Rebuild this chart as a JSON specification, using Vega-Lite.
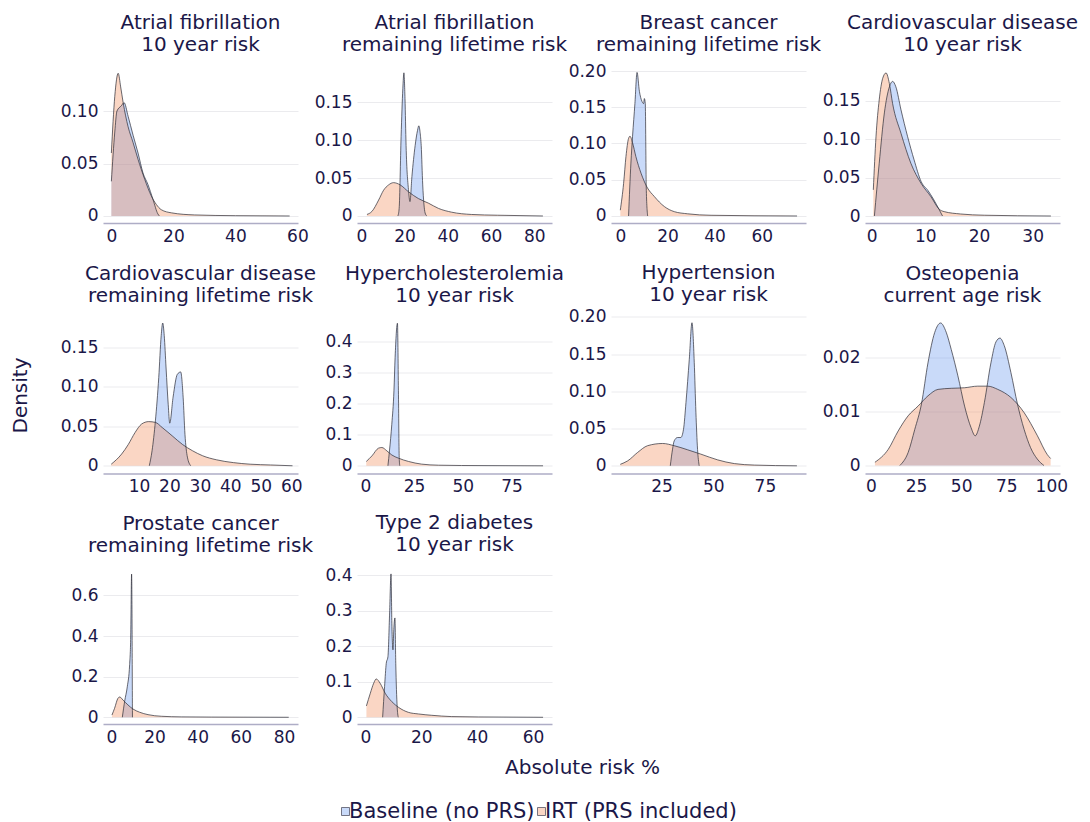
{
  "$schema": "https://vega.github.io/schema/vega-lite/v6.json",
  "padding": {"left": 10, "top": 13, "right": 0, "bottom": 0},
  "background": "white",
  "columns": 4,
  "bounds": "flush",
  "spacing": {"column": 59, "row": 93.5},
  "data": {"values": [
    {"p":"af10","s":"Baseline (no PRS)","x":0,"y":0.033},{"p":"af10","s":"Baseline (no PRS)","x":1.1,"y":0.08},{"p":"af10","s":"Baseline (no PRS)","x":1.8,"y":0.1},{"p":"af10","s":"Baseline (no PRS)","x":3.2,"y":0.105},{"p":"af10","s":"Baseline (no PRS)","x":4.1,"y":0.108},{"p":"af10","s":"Baseline (no PRS)","x":5.4,"y":0.095},{"p":"af10","s":"Baseline (no PRS)","x":7.0,"y":0.077},{"p":"af10","s":"Baseline (no PRS)","x":8.6,"y":0.06},{"p":"af10","s":"Baseline (no PRS)","x":10.2,"y":0.041},{"p":"af10","s":"Baseline (no PRS)","x":11.8,"y":0.03},{"p":"af10","s":"Baseline (no PRS)","x":13.4,"y":0.016},{"p":"af10","s":"Baseline (no PRS)","x":15,"y":0.002},{"p":"af10","s":"Baseline (no PRS)","x":15.5,"y":0},
    {"p":"af10","s":"IRT (PRS included)","x":0,"y":0.06},{"p":"af10","s":"IRT (PRS included)","x":1.1,"y":0.114},{"p":"af10","s":"IRT (PRS included)","x":2.2,"y":0.136},{"p":"af10","s":"IRT (PRS included)","x":3.0,"y":0.123},{"p":"af10","s":"IRT (PRS included)","x":3.8,"y":0.108},{"p":"af10","s":"IRT (PRS included)","x":5.4,"y":0.085},{"p":"af10","s":"IRT (PRS included)","x":7.0,"y":0.07},{"p":"af10","s":"IRT (PRS included)","x":8.6,"y":0.054},{"p":"af10","s":"IRT (PRS included)","x":10.75,"y":0.035},{"p":"af10","s":"IRT (PRS included)","x":12.9,"y":0.019},{"p":"af10","s":"IRT (PRS included)","x":14.5,"y":0.011},{"p":"af10","s":"IRT (PRS included)","x":16.1,"y":0.006},{"p":"af10","s":"IRT (PRS included)","x":19.4,"y":0.003},{"p":"af10","s":"IRT (PRS included)","x":26.9,"y":0.001},{"p":"af10","s":"IRT (PRS included)","x":40,"y":0.0003},{"p":"af10","s":"IRT (PRS included)","x":57.5,"y":0},

    {"p":"afl","s":"Baseline (no PRS)","x":16.9,"y":0},{"p":"afl","s":"Baseline (no PRS)","x":17.5,"y":0.01},{"p":"afl","s":"Baseline (no PRS)","x":18.4,"y":0.105},{"p":"afl","s":"Baseline (no PRS)","x":19.2,"y":0.168},{"p":"afl","s":"Baseline (no PRS)","x":19.7,"y":0.189},{"p":"afl","s":"Baseline (no PRS)","x":20.2,"y":0.155},{"p":"afl","s":"Baseline (no PRS)","x":20.7,"y":0.093},{"p":"afl","s":"Baseline (no PRS)","x":21.8,"y":0.035},{"p":"afl","s":"Baseline (no PRS)","x":22.5,"y":0.019},{"p":"afl","s":"Baseline (no PRS)","x":23.4,"y":0.052},{"p":"afl","s":"Baseline (no PRS)","x":24.9,"y":0.093},{"p":"afl","s":"Baseline (no PRS)","x":26.0,"y":0.113},{"p":"afl","s":"Baseline (no PRS)","x":26.6,"y":0.119},{"p":"afl","s":"Baseline (no PRS)","x":27.2,"y":0.11},{"p":"afl","s":"Baseline (no PRS)","x":27.7,"y":0.093},{"p":"afl","s":"Baseline (no PRS)","x":28.4,"y":0.041},{"p":"afl","s":"Baseline (no PRS)","x":29.5,"y":0.004},{"p":"afl","s":"Baseline (no PRS)","x":30.3,"y":0},
    {"p":"afl","s":"IRT (PRS included)","x":2.6,"y":0.002},{"p":"afl","s":"IRT (PRS included)","x":4.9,"y":0.006},{"p":"afl","s":"IRT (PRS included)","x":8.0,"y":0.021},{"p":"afl","s":"IRT (PRS included)","x":10.3,"y":0.034},{"p":"afl","s":"IRT (PRS included)","x":12.6,"y":0.041},{"p":"afl","s":"IRT (PRS included)","x":14.9,"y":0.044},{"p":"afl","s":"IRT (PRS included)","x":18,"y":0.041},{"p":"afl","s":"IRT (PRS included)","x":21.8,"y":0.032},{"p":"afl","s":"IRT (PRS included)","x":26.4,"y":0.023},{"p":"afl","s":"IRT (PRS included)","x":31,"y":0.017},{"p":"afl","s":"IRT (PRS included)","x":35.7,"y":0.01},{"p":"afl","s":"IRT (PRS included)","x":41.8,"y":0.005},{"p":"afl","s":"IRT (PRS included)","x":51,"y":0.002},{"p":"afl","s":"IRT (PRS included)","x":63,"y":0.001},{"p":"afl","s":"IRT (PRS included)","x":84,"y":0},

    {"p":"bcl","s":"Baseline (no PRS)","x":3.5,"y":0},{"p":"bcl","s":"Baseline (no PRS)","x":4.5,"y":0.073},{"p":"bcl","s":"Baseline (no PRS)","x":5.2,"y":0.11},{"p":"bcl","s":"Baseline (no PRS)","x":6.2,"y":0.155},{"p":"bcl","s":"Baseline (no PRS)","x":7.1,"y":0.198},{"p":"bcl","s":"Baseline (no PRS)","x":8.1,"y":0.172},{"p":"bcl","s":"Baseline (no PRS)","x":9.2,"y":0.158},{"p":"bcl","s":"Baseline (no PRS)","x":9.9,"y":0.155},{"p":"bcl","s":"Baseline (no PRS)","x":10.2,"y":0.162},{"p":"bcl","s":"Baseline (no PRS)","x":10.6,"y":0.155},{"p":"bcl","s":"Baseline (no PRS)","x":11,"y":0.04},{"p":"bcl","s":"Baseline (no PRS)","x":11.6,"y":0},
    {"p":"bcl","s":"IRT (PRS included)","x":0,"y":0.008},{"p":"bcl","s":"IRT (PRS included)","x":1.4,"y":0.045},{"p":"bcl","s":"IRT (PRS included)","x":2.4,"y":0.082},{"p":"bcl","s":"IRT (PRS included)","x":3.5,"y":0.107},{"p":"bcl","s":"IRT (PRS included)","x":4.1,"y":0.11},{"p":"bcl","s":"IRT (PRS included)","x":5.2,"y":0.101},{"p":"bcl","s":"IRT (PRS included)","x":6.6,"y":0.082},{"p":"bcl","s":"IRT (PRS included)","x":8.8,"y":0.059},{"p":"bcl","s":"IRT (PRS included)","x":11.3,"y":0.04},{"p":"bcl","s":"IRT (PRS included)","x":14.4,"y":0.027},{"p":"bcl","s":"IRT (PRS included)","x":18.7,"y":0.013},{"p":"bcl","s":"IRT (PRS included)","x":22.9,"y":0.006},{"p":"bcl","s":"IRT (PRS included)","x":28.6,"y":0.003},{"p":"bcl","s":"IRT (PRS included)","x":38.5,"y":0.001},{"p":"bcl","s":"IRT (PRS included)","x":75,"y":0},

    {"p":"cvd10","s":"Baseline (no PRS)","x":0.5,"y":0},{"p":"cvd10","s":"Baseline (no PRS)","x":1.4,"y":0.0685},{"p":"cvd10","s":"Baseline (no PRS)","x":2.36,"y":0.134},{"p":"cvd10","s":"Baseline (no PRS)","x":3.3,"y":0.168},{"p":"cvd10","s":"Baseline (no PRS)","x":3.9,"y":0.175},{"p":"cvd10","s":"Baseline (no PRS)","x":4.5,"y":0.168},{"p":"cvd10","s":"Baseline (no PRS)","x":5.46,"y":0.138},{"p":"cvd10","s":"Baseline (no PRS)","x":6.7,"y":0.103},{"p":"cvd10","s":"Baseline (no PRS)","x":7.9,"y":0.073},{"p":"cvd10","s":"Baseline (no PRS)","x":9.2,"y":0.045},{"p":"cvd10","s":"Baseline (no PRS)","x":10.5,"y":0.033},{"p":"cvd10","s":"Baseline (no PRS)","x":11.5,"y":0.022},{"p":"cvd10","s":"Baseline (no PRS)","x":12.6,"y":0.008},{"p":"cvd10","s":"Baseline (no PRS)","x":13.2,"y":0},
    {"p":"cvd10","s":"IRT (PRS included)","x":0.3,"y":0.034},{"p":"cvd10","s":"IRT (PRS included)","x":0.8,"y":0.103},{"p":"cvd10","s":"IRT (PRS included)","x":1.4,"y":0.151},{"p":"cvd10","s":"IRT (PRS included)","x":2.05,"y":0.179},{"p":"cvd10","s":"IRT (PRS included)","x":2.67,"y":0.186},{"p":"cvd10","s":"IRT (PRS included)","x":3.3,"y":0.172},{"p":"cvd10","s":"IRT (PRS included)","x":3.9,"y":0.146},{"p":"cvd10","s":"IRT (PRS included)","x":5.46,"y":0.1075},{"p":"cvd10","s":"IRT (PRS included)","x":7.3,"y":0.0685},{"p":"cvd10","s":"IRT (PRS included)","x":9.2,"y":0.0425},{"p":"cvd10","s":"IRT (PRS included)","x":11.05,"y":0.025},{"p":"cvd10","s":"IRT (PRS included)","x":12.6,"y":0.0087},{"p":"cvd10","s":"IRT (PRS included)","x":13.5,"y":0.0057},{"p":"cvd10","s":"IRT (PRS included)","x":16.6,"y":0.0026},{"p":"cvd10","s":"IRT (PRS included)","x":21,"y":0.001},{"p":"cvd10","s":"IRT (PRS included)","x":33.4,"y":0},

    {"p":"cvdl","s":"Baseline (no PRS)","x":13.4,"y":0},{"p":"cvdl","s":"Baseline (no PRS)","x":14.3,"y":0.019},{"p":"cvdl","s":"Baseline (no PRS)","x":15.4,"y":0.057},{"p":"cvdl","s":"Baseline (no PRS)","x":16.5,"y":0.112},{"p":"cvdl","s":"Baseline (no PRS)","x":17.3,"y":0.165},{"p":"cvdl","s":"Baseline (no PRS)","x":17.8,"y":0.181},{"p":"cvdl","s":"Baseline (no PRS)","x":18.3,"y":0.165},{"p":"cvdl","s":"Baseline (no PRS)","x":18.9,"y":0.124},{"p":"cvdl","s":"Baseline (no PRS)","x":19.6,"y":0.078},{"p":"cvdl","s":"Baseline (no PRS)","x":20.1,"y":0.054},{"p":"cvdl","s":"Baseline (no PRS)","x":21.2,"y":0.087},{"p":"cvdl","s":"Baseline (no PRS)","x":22.6,"y":0.116},{"p":"cvdl","s":"Baseline (no PRS)","x":23.7,"y":0.119},{"p":"cvdl","s":"Baseline (no PRS)","x":24.5,"y":0.087},{"p":"cvdl","s":"Baseline (no PRS)","x":25.1,"y":0.04},{"p":"cvdl","s":"Baseline (no PRS)","x":25.9,"y":0.011},{"p":"cvdl","s":"Baseline (no PRS)","x":27,"y":0},
    {"p":"cvdl","s":"IRT (PRS included)","x":0.9,"y":0.002},{"p":"cvdl","s":"IRT (PRS included)","x":4.3,"y":0.0148},{"p":"cvdl","s":"IRT (PRS included)","x":6.5,"y":0.027},{"p":"cvdl","s":"IRT (PRS included)","x":8.7,"y":0.042},{"p":"cvdl","s":"IRT (PRS included)","x":10.9,"y":0.053},{"p":"cvdl","s":"IRT (PRS included)","x":13.2,"y":0.056},{"p":"cvdl","s":"IRT (PRS included)","x":15.4,"y":0.055},{"p":"cvdl","s":"IRT (PRS included)","x":17.6,"y":0.0486},{"p":"cvdl","s":"IRT (PRS included)","x":20.9,"y":0.038},{"p":"cvdl","s":"IRT (PRS included)","x":24.3,"y":0.027},{"p":"cvdl","s":"IRT (PRS included)","x":27.6,"y":0.019},{"p":"cvdl","s":"IRT (PRS included)","x":30.9,"y":0.0127},{"p":"cvdl","s":"IRT (PRS included)","x":35.4,"y":0.0076},{"p":"cvdl","s":"IRT (PRS included)","x":41,"y":0.004},{"p":"cvdl","s":"IRT (PRS included)","x":46.5,"y":0.002},{"p":"cvdl","s":"IRT (PRS included)","x":53.2,"y":0.001},{"p":"cvdl","s":"IRT (PRS included)","x":60.4,"y":0},

    {"p":"hc10","s":"Baseline (no PRS)","x":11.6,"y":0},{"p":"hc10","s":"Baseline (no PRS)","x":12.4,"y":0.048},{"p":"hc10","s":"Baseline (no PRS)","x":13.6,"y":0.134},{"p":"hc10","s":"Baseline (no PRS)","x":14.7,"y":0.242},{"p":"hc10","s":"Baseline (no PRS)","x":15.3,"y":0.35},{"p":"hc10","s":"Baseline (no PRS)","x":16.5,"y":0.46},{"p":"hc10","s":"Baseline (no PRS)","x":17,"y":0.242},{"p":"hc10","s":"Baseline (no PRS)","x":17.4,"y":0.027},{"p":"hc10","s":"Baseline (no PRS)","x":17.7,"y":0},
    {"p":"hc10","s":"IRT (PRS included)","x":0.5,"y":0.014},{"p":"hc10","s":"IRT (PRS included)","x":3.4,"y":0.032},{"p":"hc10","s":"IRT (PRS included)","x":6.8,"y":0.057},{"p":"hc10","s":"IRT (PRS included)","x":8.5,"y":0.059},{"p":"hc10","s":"IRT (PRS included)","x":11.1,"y":0.048},{"p":"hc10","s":"IRT (PRS included)","x":13.6,"y":0.035},{"p":"hc10","s":"IRT (PRS included)","x":17,"y":0.0247},{"p":"hc10","s":"IRT (PRS included)","x":22.2,"y":0.014},{"p":"hc10","s":"IRT (PRS included)","x":28.9,"y":0.0054},{"p":"hc10","s":"IRT (PRS included)","x":37.5,"y":0.002},{"p":"hc10","s":"IRT (PRS included)","x":49.4,"y":0.001},{"p":"hc10","s":"IRT (PRS included)","x":91.2,"y":0},

    {"p":"ht10","s":"Baseline (no PRS)","x":29.2,"y":0},{"p":"ht10","s":"Baseline (no PRS)","x":30.3,"y":0.0224},{"p":"ht10","s":"Baseline (no PRS)","x":31.1,"y":0.0335},{"p":"ht10","s":"Baseline (no PRS)","x":32.7,"y":0.038},{"p":"ht10","s":"Baseline (no PRS)","x":34.3,"y":0.038},{"p":"ht10","s":"Baseline (no PRS)","x":35.6,"y":0.049},{"p":"ht10","s":"Baseline (no PRS)","x":36.8,"y":0.085},{"p":"ht10","s":"Baseline (no PRS)","x":38.4,"y":0.143},{"p":"ht10","s":"Baseline (no PRS)","x":39.7,"y":0.192},{"p":"ht10","s":"Baseline (no PRS)","x":40.8,"y":0.139},{"p":"ht10","s":"Baseline (no PRS)","x":41.6,"y":0.072},{"p":"ht10","s":"Baseline (no PRS)","x":42.4,"y":0.022},{"p":"ht10","s":"Baseline (no PRS)","x":43.2,"y":0},
    {"p":"ht10","s":"IRT (PRS included)","x":5,"y":0.002},{"p":"ht10","s":"IRT (PRS included)","x":8.6,"y":0.0067},{"p":"ht10","s":"IRT (PRS included)","x":13.4,"y":0.018},{"p":"ht10","s":"IRT (PRS included)","x":18.2,"y":0.027},{"p":"ht10","s":"IRT (PRS included)","x":25.5,"y":0.03},{"p":"ht10","s":"IRT (PRS included)","x":31.1,"y":0.027},{"p":"ht10","s":"IRT (PRS included)","x":37.6,"y":0.0215},{"p":"ht10","s":"IRT (PRS included)","x":44,"y":0.0157},{"p":"ht10","s":"IRT (PRS included)","x":52.1,"y":0.008},{"p":"ht10","s":"IRT (PRS included)","x":60.2,"y":0.003},{"p":"ht10","s":"IRT (PRS included)","x":69.9,"y":0.001},{"p":"ht10","s":"IRT (PRS included)","x":90.5,"y":0},

    {"p":"osteo","s":"Baseline (no PRS)","x":16,"y":0},{"p":"osteo","s":"Baseline (no PRS)","x":20.6,"y":0.0024},{"p":"osteo","s":"Baseline (no PRS)","x":24.3,"y":0.0067},{"p":"osteo","s":"Baseline (no PRS)","x":28,"y":0.0114},{"p":"osteo","s":"Baseline (no PRS)","x":31.6,"y":0.019},{"p":"osteo","s":"Baseline (no PRS)","x":35.3,"y":0.0246},{"p":"osteo","s":"Baseline (no PRS)","x":38.6,"y":0.0264},{"p":"osteo","s":"Baseline (no PRS)","x":41.7,"y":0.0247},{"p":"osteo","s":"Baseline (no PRS)","x":44.5,"y":0.0215},{"p":"osteo","s":"Baseline (no PRS)","x":48.2,"y":0.0166},{"p":"osteo","s":"Baseline (no PRS)","x":51.9,"y":0.011},{"p":"osteo","s":"Baseline (no PRS)","x":55.5,"y":0.007},{"p":"osteo","s":"Baseline (no PRS)","x":57.8,"y":0.0055},{"p":"osteo","s":"Baseline (no PRS)","x":60.1,"y":0.0073},{"p":"osteo","s":"Baseline (no PRS)","x":62.9,"y":0.0117},{"p":"osteo","s":"Baseline (no PRS)","x":66.5,"y":0.019},{"p":"osteo","s":"Baseline (no PRS)","x":69.3,"y":0.0229},{"p":"osteo","s":"Baseline (no PRS)","x":71.5,"y":0.0236},{"p":"osteo","s":"Baseline (no PRS)","x":73.9,"y":0.0222},{"p":"osteo","s":"Baseline (no PRS)","x":77.6,"y":0.0172},{"p":"osteo","s":"Baseline (no PRS)","x":81.2,"y":0.0114},{"p":"osteo","s":"Baseline (no PRS)","x":84.9,"y":0.0067},{"p":"osteo","s":"Baseline (no PRS)","x":88.5,"y":0.0033},{"p":"osteo","s":"Baseline (no PRS)","x":92.2,"y":0.0012},{"p":"osteo","s":"Baseline (no PRS)","x":95.9,"y":0},
    {"p":"osteo","s":"IRT (PRS included)","x":2.2,"y":0.0006},{"p":"osteo","s":"IRT (PRS included)","x":9.6,"y":0.003},{"p":"osteo","s":"IRT (PRS included)","x":15.1,"y":0.0064},{"p":"osteo","s":"IRT (PRS included)","x":20.6,"y":0.0092},{"p":"osteo","s":"IRT (PRS included)","x":26.1,"y":0.011},{"p":"osteo","s":"IRT (PRS included)","x":31.6,"y":0.0129},{"p":"osteo","s":"IRT (PRS included)","x":37.2,"y":0.0141},{"p":"osteo","s":"IRT (PRS included)","x":44.5,"y":0.0143},{"p":"osteo","s":"IRT (PRS included)","x":51.9,"y":0.0144},{"p":"osteo","s":"IRT (PRS included)","x":59.2,"y":0.0147},{"p":"osteo","s":"IRT (PRS included)","x":64.7,"y":0.0147},{"p":"osteo","s":"IRT (PRS included)","x":70.3,"y":0.0141},{"p":"osteo","s":"IRT (PRS included)","x":77.6,"y":0.0126},{"p":"osteo","s":"IRT (PRS included)","x":84.9,"y":0.0098},{"p":"osteo","s":"IRT (PRS included)","x":92.3,"y":0.0055},{"p":"osteo","s":"IRT (PRS included)","x":97.8,"y":0.002},{"p":"osteo","s":"IRT (PRS included)","x":99.6,"y":0.0013},

    {"p":"pcl","s":"Baseline (no PRS)","x":5.1,"y":0},{"p":"pcl","s":"Baseline (no PRS)","x":6.2,"y":0.08},{"p":"pcl","s":"Baseline (no PRS)","x":7.4,"y":0.15},{"p":"pcl","s":"Baseline (no PRS)","x":8.5,"y":0.26},{"p":"pcl","s":"Baseline (no PRS)","x":9.0,"y":0.4},{"p":"pcl","s":"Baseline (no PRS)","x":9.4,"y":0.705},{"p":"pcl","s":"Baseline (no PRS)","x":9.8,"y":0},
    {"p":"pcl","s":"IRT (PRS included)","x":0.3,"y":0.011},{"p":"pcl","s":"IRT (PRS included)","x":1.5,"y":0.044},{"p":"pcl","s":"IRT (PRS included)","x":3.1,"y":0.094},{"p":"pcl","s":"IRT (PRS included)","x":3.9,"y":0.1},{"p":"pcl","s":"IRT (PRS included)","x":5.4,"y":0.085},{"p":"pcl","s":"IRT (PRS included)","x":7.7,"y":0.061},{"p":"pcl","s":"IRT (PRS included)","x":10,"y":0.041},{"p":"pcl","s":"IRT (PRS included)","x":13.1,"y":0.025},{"p":"pcl","s":"IRT (PRS included)","x":17,"y":0.013},{"p":"pcl","s":"IRT (PRS included)","x":23.2,"y":0.005},{"p":"pcl","s":"IRT (PRS included)","x":32.4,"y":0.002},{"p":"pcl","s":"IRT (PRS included)","x":46.3,"y":0.001},{"p":"pcl","s":"IRT (PRS included)","x":82.2,"y":0},

    {"p":"t2d","s":"Baseline (no PRS)","x":6.2,"y":0},{"p":"t2d","s":"Baseline (no PRS)","x":6.9,"y":0.087},{"p":"t2d","s":"Baseline (no PRS)","x":7.5,"y":0.152},{"p":"t2d","s":"Baseline (no PRS)","x":8.1,"y":0.171},{"p":"t2d","s":"Baseline (no PRS)","x":8.7,"y":0.294},{"p":"t2d","s":"Baseline (no PRS)","x":9.2,"y":0.404},{"p":"t2d","s":"Baseline (no PRS)","x":9.5,"y":0.265},{"p":"t2d","s":"Baseline (no PRS)","x":9.9,"y":0.19},{"p":"t2d","s":"Baseline (no PRS)","x":10.2,"y":0.247},{"p":"t2d","s":"Baseline (no PRS)","x":10.6,"y":0.28},{"p":"t2d","s":"Baseline (no PRS)","x":10.9,"y":0.152},{"p":"t2d","s":"Baseline (no PRS)","x":11.4,"y":0.03},{"p":"t2d","s":"Baseline (no PRS)","x":11.8,"y":0},
    {"p":"t2d","s":"IRT (PRS included)","x":0.4,"y":0.032},{"p":"t2d","s":"IRT (PRS included)","x":1.8,"y":0.068},{"p":"t2d","s":"IRT (PRS included)","x":3,"y":0.096},{"p":"t2d","s":"IRT (PRS included)","x":3.9,"y":0.108},{"p":"t2d","s":"IRT (PRS included)","x":5.3,"y":0.096},{"p":"t2d","s":"IRT (PRS included)","x":7.1,"y":0.068},{"p":"t2d","s":"IRT (PRS included)","x":9.5,"y":0.044},{"p":"t2d","s":"IRT (PRS included)","x":11.9,"y":0.028},{"p":"t2d","s":"IRT (PRS included)","x":15.4,"y":0.014},{"p":"t2d","s":"IRT (PRS included)","x":19,"y":0.0094},{"p":"t2d","s":"IRT (PRS included)","x":23.8,"y":0.0056},{"p":"t2d","s":"IRT (PRS included)","x":30.9,"y":0.002},{"p":"t2d","s":"IRT (PRS included)","x":40.4,"y":0.001},{"p":"t2d","s":"IRT (PRS included)","x":63.6,"y":0}
  ]},
  "concat": [
    {"title": {"text": ["Atrial fibrillation", "10 year risk"]}, "width": 195, "height": 157,
     "transform": [{"filter": "datum.p == 'af10'"}],
     "encoding": {
       "x": {"field": "x", "type": "quantitative", "scale": {"domain": [-2.7, 60.2], "nice": false, "zero": false}, "axis": {"values": [0, 20, 40, 60], "title": null}},
       "y": {"field": "y", "type": "quantitative", "stack": null, "scale": {"domain": [-0.00667, 0.1429], "nice": false, "zero": false}, "axis": {"values": [0, 0.05, 0.1], "labelExpr": "datum.value == 0 ? '0' : format(datum.value, '.2f')", "title": null}}
     },
     "layer": [
       {"mark": {"type": "area", "interpolate": "monotone"}, "encoding": {"color": {"field": "s", "type": "nominal", "scale": {"domain": ["Baseline (no PRS)", "IRT (PRS included)"], "range": ["rgba(100,149,237,0.35)", "rgba(241,138,86,0.35)"]}, "legend": {"orient": "none", "legendX": 232, "legendY": 735, "direction": "horizontal", "title": null}}}},
       {"mark": {"type": "line", "interpolate": "monotone", "color": "#2b2b35", "strokeWidth": 0.7}, "encoding": {"detail": {"field": "s"}}}
     ]},
    {"title": {"text": ["Atrial fibrillation", "remaining lifetime risk"]}, "width": 195, "height": 157,
     "transform": [{"filter": "datum.p == 'afl'"}],
     "encoding": {
       "x": {"field": "x", "type": "quantitative", "scale": {"domain": [-2.0, 88.2], "nice": false, "zero": false}, "axis": {"values": [0, 20, 40, 60, 80], "title": null}},
       "y": {"field": "y", "type": "quantitative", "stack": null, "scale": {"domain": [-0.00926, 0.198], "nice": false, "zero": false}, "axis": {"values": [0, 0.05, 0.1, 0.15], "labelExpr": "datum.value == 0 ? '0' : format(datum.value, '.2f')", "title": null}}
     },
     "layer": [
       {"mark": {"type": "area", "interpolate": "monotone"}, "encoding": {"color": {"field": "s", "type": "nominal", "scale": {"domain": ["Baseline (no PRS)", "IRT (PRS included)"], "range": ["rgba(100,149,237,0.35)", "rgba(241,138,86,0.35)"]}, "legend": {"orient": "none", "legendX": 232, "legendY": 735, "direction": "horizontal", "title": null}}}},
       {"mark": {"type": "line", "interpolate": "monotone", "color": "#2b2b35", "strokeWidth": 0.7}, "encoding": {"detail": {"field": "s"}}}
     ]},
    {"title": {"text": ["Breast cancer", "remaining lifetime risk"], "offset": 7}, "width": 195, "height": 157,
     "transform": [{"filter": "datum.p == 'bcl'"}],
     "encoding": {
       "x": {"field": "x", "type": "quantitative", "scale": {"domain": [-3.95, 78.8], "nice": false, "zero": false}, "axis": {"values": [0, 20, 40, 60], "title": null}},
       "y": {"field": "y", "type": "quantitative", "stack": null, "scale": {"domain": [-0.00966, 0.2069], "nice": false, "zero": false}, "axis": {"values": [0, 0.05, 0.1, 0.15, 0.2], "labelExpr": "datum.value == 0 ? '0' : format(datum.value, '.2f')", "title": null}}
     },
     "layer": [
       {"mark": {"type": "area", "interpolate": "monotone"}, "encoding": {"color": {"field": "s", "type": "nominal", "scale": {"domain": ["Baseline (no PRS)", "IRT (PRS included)"], "range": ["rgba(100,149,237,0.35)", "rgba(241,138,86,0.35)"]}, "legend": {"orient": "none", "legendX": 232, "legendY": 735, "direction": "horizontal", "title": null}}}},
       {"mark": {"type": "line", "interpolate": "monotone", "color": "#2b2b35", "strokeWidth": 0.7}, "encoding": {"detail": {"field": "s"}}}
     ]},
    {"title": {"text": ["Cardiovascular disease", "10 year risk"]}, "width": 195, "height": 157,
     "transform": [{"filter": "datum.p == 'cvd10'"}],
     "encoding": {
       "x": {"field": "x", "type": "quantitative", "scale": {"domain": [-1.25, 35.1], "nice": false, "zero": false}, "axis": {"values": [0, 10, 20, 30], "title": null}},
       "y": {"field": "y", "type": "quantitative", "stack": null, "scale": {"domain": [-0.0091, 0.195], "nice": false, "zero": false}, "axis": {"values": [0, 0.05, 0.1, 0.15], "labelExpr": "datum.value == 0 ? '0' : format(datum.value, '.2f')", "title": null}}
     },
     "layer": [
       {"mark": {"type": "area", "interpolate": "monotone"}, "encoding": {"color": {"field": "s", "type": "nominal", "scale": {"domain": ["Baseline (no PRS)", "IRT (PRS included)"], "range": ["rgba(100,149,237,0.35)", "rgba(241,138,86,0.35)"]}, "legend": {"orient": "none", "legendX": 232, "legendY": 735, "direction": "horizontal", "title": null}}}},
       {"mark": {"type": "line", "interpolate": "monotone", "color": "#2b2b35", "strokeWidth": 0.7}, "encoding": {"detail": {"field": "s"}}}
     ]},
    {"title": {"text": ["Cardiovascular disease", "remaining lifetime risk"]}, "width": 195, "height": 157,
     "transform": [{"filter": "datum.p == 'cvdl'"}],
     "encoding": {
       "x": {"field": "x", "type": "quantitative", "scale": {"domain": [-1.8, 62.2], "nice": false, "zero": false}, "axis": {"values": [10, 20, 30, 40, 50, 60], "title": null}},
       "y": {"field": "y", "type": "quantitative", "stack": null, "scale": {"domain": [-0.0098, 0.1893], "nice": false, "zero": false}, "axis": {"values": [0, 0.05, 0.1, 0.15], "labelExpr": "datum.value == 0 ? '0' : format(datum.value, '.2f')", "title": "Density", "titleX": -73}}
     },
     "layer": [
       {"mark": {"type": "area", "interpolate": "monotone"}, "encoding": {"color": {"field": "s", "type": "nominal", "scale": {"domain": ["Baseline (no PRS)", "IRT (PRS included)"], "range": ["rgba(100,149,237,0.35)", "rgba(241,138,86,0.35)"]}, "legend": {"orient": "none", "legendX": 232, "legendY": 735, "direction": "horizontal", "title": null}}}},
       {"mark": {"type": "line", "interpolate": "monotone", "color": "#2b2b35", "strokeWidth": 0.7}, "encoding": {"detail": {"field": "s"}}}
     ]},
    {"title": {"text": ["Hypercholesterolemia", "10 year risk"]}, "width": 195, "height": 157,
     "transform": [{"filter": "datum.p == 'hc10'"}],
     "encoding": {
       "x": {"field": "x", "type": "quantitative", "scale": {"domain": [-4.26, 95.8], "nice": false, "zero": false}, "axis": {"values": [0, 25, 50, 75], "title": null}},
       "y": {"field": "y", "type": "quantitative", "stack": null, "scale": {"domain": [-0.0248, 0.4816], "nice": false, "zero": false}, "axis": {"values": [0, 0.1, 0.2, 0.3, 0.4], "labelExpr": "datum.value == 0 ? '0' : format(datum.value, '.1f')", "title": null}}
     },
     "layer": [
       {"mark": {"type": "area", "interpolate": "monotone"}, "encoding": {"color": {"field": "s", "type": "nominal", "scale": {"domain": ["Baseline (no PRS)", "IRT (PRS included)"], "range": ["rgba(100,149,237,0.35)", "rgba(241,138,86,0.35)"]}, "legend": {"orient": "none", "legendX": 232, "legendY": 735, "direction": "horizontal", "title": null}}}},
       {"mark": {"type": "line", "interpolate": "monotone", "color": "#2b2b35", "strokeWidth": 0.7}, "encoding": {"detail": {"field": "s"}}}
     ]},
    {"title": {"text": ["Hypertension", "10 year risk"], "offset": 3}, "width": 195, "height": 157,
     "transform": [{"filter": "datum.p == 'ht10'"}],
     "encoding": {
       "x": {"field": "x", "type": "quantitative", "scale": {"domain": [0.5, 94.9], "nice": false, "zero": false}, "axis": {"values": [25, 50, 75], "title": null}},
       "y": {"field": "y", "type": "quantitative", "stack": null, "scale": {"domain": [-0.0103, 0.2004], "nice": false, "zero": false}, "axis": {"values": [0, 0.05, 0.1, 0.15, 0.2], "labelExpr": "datum.value == 0 ? '0' : format(datum.value, '.2f')", "title": null}}
     },
     "layer": [
       {"mark": {"type": "area", "interpolate": "monotone"}, "encoding": {"color": {"field": "s", "type": "nominal", "scale": {"domain": ["Baseline (no PRS)", "IRT (PRS included)"], "range": ["rgba(100,149,237,0.35)", "rgba(241,138,86,0.35)"]}, "legend": {"orient": "none", "legendX": 232, "legendY": 735, "direction": "horizontal", "title": null}}}},
       {"mark": {"type": "line", "interpolate": "monotone", "color": "#2b2b35", "strokeWidth": 0.7}, "encoding": {"detail": {"field": "s"}}}
     ]},
    {"title": {"text": ["Osteopenia", "current age risk"]}, "width": 195, "height": 157,
     "transform": [{"filter": "datum.p == 'osteo'"}],
     "encoding": {
       "x": {"field": "x", "type": "quantitative", "scale": {"domain": [-3.3, 104.8], "nice": false, "zero": false}, "axis": {"values": [0, 25, 50, 75, 100], "title": null}},
       "y": {"field": "y", "type": "quantitative", "stack": null, "scale": {"domain": [-0.00148, 0.0276], "nice": false, "zero": false}, "axis": {"values": [0, 0.01, 0.02], "labelExpr": "datum.value == 0 ? '0' : format(datum.value, '.2f')", "title": null}}
     },
     "layer": [
       {"mark": {"type": "area", "interpolate": "monotone"}, "encoding": {"color": {"field": "s", "type": "nominal", "scale": {"domain": ["Baseline (no PRS)", "IRT (PRS included)"], "range": ["rgba(100,149,237,0.35)", "rgba(241,138,86,0.35)"]}, "legend": {"orient": "none", "legendX": 232, "legendY": 735, "direction": "horizontal", "title": null}}}},
       {"mark": {"type": "line", "interpolate": "monotone", "color": "#2b2b35", "strokeWidth": 0.7}, "encoding": {"detail": {"field": "s"}}}
     ]},
    {"title": {"text": ["Prostate cancer", "remaining lifetime risk"]}, "width": 195, "height": 157,
     "transform": [{"filter": "datum.p == 'pcl'"}],
     "encoding": {
       "x": {"field": "x", "type": "quantitative", "scale": {"domain": [-3.85, 86.5], "nice": false, "zero": false}, "axis": {"values": [0, 20, 40, 60, 80], "title": null}},
       "y": {"field": "y", "type": "quantitative", "stack": null, "scale": {"domain": [-0.033, 0.7396], "nice": false, "zero": false}, "axis": {"values": [0, 0.2, 0.4, 0.6], "labelExpr": "datum.value == 0 ? '0' : format(datum.value, '.1f')", "title": null}}
     },
     "layer": [
       {"mark": {"type": "area", "interpolate": "monotone"}, "encoding": {"color": {"field": "s", "type": "nominal", "scale": {"domain": ["Baseline (no PRS)", "IRT (PRS included)"], "range": ["rgba(100,149,237,0.35)", "rgba(241,138,86,0.35)"]}, "legend": {"orient": "none", "legendX": 232, "legendY": 735, "direction": "horizontal", "title": null}}}},
       {"mark": {"type": "line", "interpolate": "monotone", "color": "#2b2b35", "strokeWidth": 0.7}, "encoding": {"detail": {"field": "s"}}}
     ]},
    {"title": {"text": ["Type 2 diabetes", "10 year risk"]}, "width": 195, "height": 157,
     "transform": [{"filter": "datum.p == 't2d'"}],
     "encoding": {
       "x": {"field": "x", "type": "quantitative", "scale": {"domain": [-2.97, 66.8], "nice": false, "zero": false}, "axis": {"values": [0, 20, 40, 60], "title": "Absolute risk %", "titleX": 225, "titleY": 49, "titleAlign": "center", "titleBaseline": "alphabetic"}},
       "y": {"field": "y", "type": "quantitative", "stack": null, "scale": {"domain": [-0.0189, 0.4235], "nice": false, "zero": false}, "axis": {"values": [0, 0.1, 0.2, 0.3, 0.4], "labelExpr": "datum.value == 0 ? '0' : format(datum.value, '.1f')", "title": null}}
     },
     "layer": [
       {"mark": {"type": "area", "interpolate": "monotone"}, "encoding": {"color": {"field": "s", "type": "nominal", "scale": {"domain": ["Baseline (no PRS)", "IRT (PRS included)"], "range": ["rgba(100,149,237,0.35)", "rgba(241,138,86,0.35)"]}, "legend": {"orient": "none", "legendX": 232, "legendY": 735, "direction": "horizontal", "title": null}}}},
       {"mark": {"type": "line", "interpolate": "monotone", "color": "#2b2b35", "strokeWidth": 0.7}, "encoding": {"detail": {"field": "s"}}}
     ]}
  ],
  "config": {
    "font": "DejaVu Sans",
    "view": {"stroke": null},
    "title": {"fontSize": 20, "fontWeight": "normal", "color": "#1b1748", "lineHeight": 22, "offset": 11, "anchor": "middle"},
    "axis": {"labelFontSize": 17, "labelColor": "#1b1748", "ticks": false, "titleFontSize": 20, "titleFontWeight": "normal", "titleColor": "#1b1748", "labelPadding": 5, "labelFlush": false, "labelOverlap": false, "labelBound": false},
    "axisX": {"grid": false, "domainColor": "#aeadc6", "domainWidth": 1.5, "labelPadding": 5},
    "axisY": {"domain": false, "gridColor": "#ebebee", "gridWidth": 1},
    "legend": {"symbolType": "square", "symbolSize": 64, "symbolStrokeColor": "#555566", "symbolStrokeWidth": 0.8, "labelFontSize": 21, "labelColor": "#1b1748", "labelOffset": -7, "labelLimit": 500, "columnPadding": -4, "gridAlign": "none", "padding": 0}
  }
}
